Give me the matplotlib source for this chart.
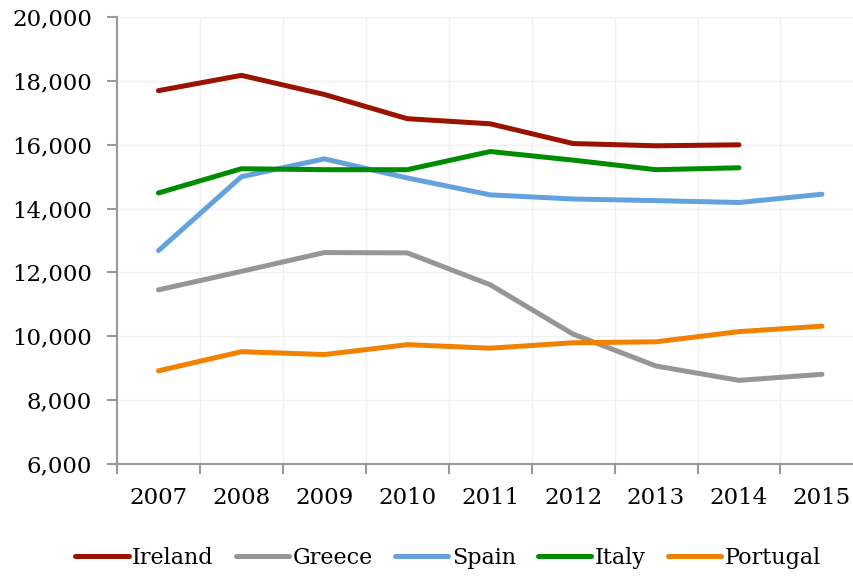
import numpy as np
import matplotlib.pyplot as plt
from matplotlib.ticker import FuncFormatter

years = ['2007', '2008', '2009', '2010', '2011', '2012', '2013', '2014', '2015']

ireland = [17700, 18180, 17580, 16820, 16660, 16040, 15970, 16000]
greece = [11450, 12030, 12620, 12610, 11610, 10060, 9060, 8610, 8800]
spain = [12680, 15000, 15560, 14960, 14430, 14300, 14250, 14190, 14450]
italy = [14490, 15250, 15220, 15220, 15790, 15520, 15220, 15280]
portugal = [8910, 9510, 9420, 9730, 9620, 9790, 9820, 10140, 10310]

series = [
    ('Ireland', ireland, '#991300'),
    ('Greece', greece, '#969696'),
    ('Spain', spain, '#64a2de'),
    ('Italy', italy, '#008c00'),
    ('Portugal', portugal, '#f08200'),
]

plt.rcParams['font.family'] = ['DejaVu Serif']

fig = plt.figure(figsize=(8.54, 5.78), dpi=100)
ax = fig.add_axes([0.137, 0.198, 0.874, 0.772])

for name, vals, color in series:
    x = np.arange(len(vals))
    ax.plot(x, vals, color=color, lw=3.6, label=name, solid_capstyle='round')

ax.set_xlim(-0.5, len(years) - 0.5)
ax.set_ylim(6000, 20000)
ax.set_yticks(np.arange(6000, 20001, 2000))
ax.yaxis.set_major_formatter(FuncFormatter(lambda v, p: '{:,.0f}'.format(v)))
ax.set_xticks(np.arange(len(years)))
ax.set_xticklabels(years)
ax.set_xticks(np.arange(-0.5, len(years)), minor=True)

ax.tick_params(axis='x', which='major', length=0, pad=17, labelsize=16.5)
ax.tick_params(axis='x', which='minor', length=7, width=1.5, color='#999999', direction='out')
ax.tick_params(axis='y', length=7, width=1.5, color='#999999', pad=11, labelsize=16.5)

ax.grid(axis='y', color='#f0f0f0', lw=1)
ax.grid(axis='x', which='minor', color='#f0f0f0', lw=1)
ax.set_axisbelow(True)

for s in ['top', 'right']:
    ax.spines[s].set_visible(False)
for s in ['left', 'bottom']:
    ax.spines[s].set_color('#999999')
    ax.spines[s].set_linewidth(1.5)

fig.legend(loc='center', bbox_to_anchor=(448 / 854, 1 - 558 / 578), ncol=5,
           frameon=False, fontsize=16, handlelength=2.4, handletextpad=0.15,
           columnspacing=1.0)

fig.savefig('out.png', dpi=100)
